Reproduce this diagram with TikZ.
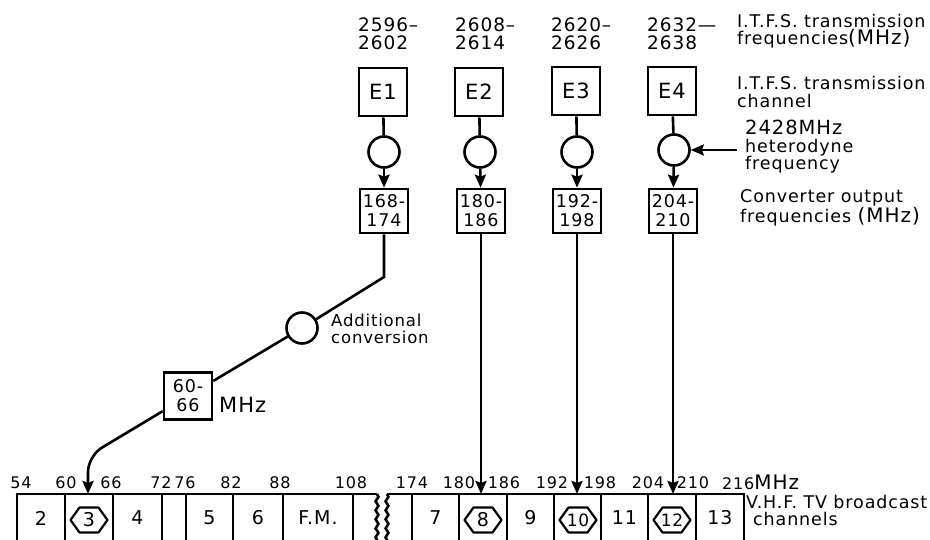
\documentclass[tikz,border=0pt]{standalone}
\usepackage{fontspec}
\setmainfont{DejaVu Sans}[LetterSpace=5]
\usetikzlibrary{arrows.meta,decorations.pathmorphing}
\tikzset{
  lw/.style={line width=2.6pt},
  arr/.style={lw,-{Stealth[length=13pt,width=11pt,inset=2pt]}},
  ebox/.style={draw,lw,minimum width=48pt,minimum height=48pt,inner sep=0pt,font=\fontsize{21}{24}\selectfont},
  obox/.style={draw,lw,minimum width=48pt,minimum height=44pt,inner sep=0pt,align=center,font=\fontsize{17.5}{19}\selectfont},
  mix/.style={draw,lw,circle,minimum size=31pt,inner sep=0pt},
  hexline/.style={line width=2.2pt,line join=round},
  lbl/.style={font=\fontsize{17.5}{17.5}\selectfont,align=left,anchor=west,inner sep=0pt},
  toplbl/.style={font=\fontsize{18.5}{18.5}\selectfont,align=left,anchor=west,inner sep=0pt},
  freq/.style={font=\fontsize{16}{16}\selectfont,inner sep=0pt},
  cell/.style={font=\fontsize{19}{19}\selectfont,inner sep=0pt},
  hcell/.style={font=\fontsize{17}{17}\selectfont,inner sep=0pt},
  brk/.style={lw,decorate,decoration={snake,amplitude=1.4pt,segment length=9pt}}
}
\newcommand\bigmhz{{\fontsize{20}{17.5}\selectfont(MHz)}}
\newcommand\hexaround[1]{\draw[hexline] (#1) ++(-18.5,0) -- ++(9,-12.5) -- ++(19,0) -- ++(9,12.5) -- ++(-9,12.5) -- ++(-19,0) -- cycle;}
\begin{document}
\begin{tikzpicture}[x=1pt,y=-1pt]
\useasboundingbox (0,0) rectangle (930,540);
% top frequency labels
\node[toplbl] (f1) at (358,34) {2596–\\2602};
\node[toplbl] (f2) at (455,34) {2608–\\2614};
\node[toplbl] (f3) at (551,34) {2620–\\2626};
\node[toplbl] (f4) at (647,34) {2632—\\2638};
% E boxes
\node[ebox] (e1) at (383,92) {E1};
\node[ebox] (e2) at (479,92) {E2};
\node[ebox] (e3) at (576,91) {E3};
\node[ebox] (e4) at (672,91) {E4};
% mixers
\node[mix] (c1) at (384,152) {};
\node[mix] (c2) at (480,152) {};
\node[mix] (c3) at (577,152) {};
\node[mix] (c4) at (674,150) {};
% output boxes
\node[obox] (o1) at (384,211) {168-\\174};
\node[obox] (o2) at (481,211) {180-\\186};
\node[obox] (o3) at (577,211) {192-\\198};
\node[obox] (o4) at (673,211) {204-\\210};
\foreach \i in {1,2,3,4}{
  \draw[lw] (e\i) -- (c\i);
  \draw[arr] (c\i) -- (o\i);
}
% right-hand labels
\node[lbl] (t1) at (737,31) {I.T.F.S. transmission\\frequencies\bigmhz};
\node[lbl] (t2) at (737,92) {I.T.F.S. transmission\\channel};
\node[lbl] (t3) at (745,147) {{\fontsize{19.5}{17.5}\selectfont 2428MHz}\\heterodyne\\frequency};
\node[lbl] (t4) at (740,208) {Converter output\\frequencies \bigmhz};
\coordinate (hx) at (737,150);
\draw[arr] (hx) -- (c4);
% additional conversion
\coordinate (b1) at (384,277);
\node[mix] (ac) at (302,328) {};
\node[lbl,font=\fontsize{16.5}{17}\selectfont] (t5) at (331,329) {Additional\\conversion};
\node[obox,minimum height=47pt] (m) at (188,396) {60-\\66};
\node[lbl,font=\fontsize{21}{20}\selectfont] (mhz) at (219,405) {MHz};
\draw[lw] (o1) -- (b1) -- (ac);
\draw[lw] (ac) -- (m);
\coordinate (b2) at (88,456);
\coordinate (a3) at (88,494);
\draw[arr,rounded corners=16pt] (m) -- (b2) -- (a3);
% band
\coordinate (a8) at (481,494);
\coordinate (a10) at (577,494);
\coordinate (a12) at (673,494);
\draw[arr] (o2) -- (a8);
\draw[arr] (o3) -- (a10);
\draw[arr] (o4) -- (a12);
\draw[lw] (17,541) -- (17,494) -- (377,494);
\draw[brk] (377,494) -- (377,541);
\draw[brk] (387,494) -- (387,541);
\draw[lw] (387,494) -- (744,494) -- (744,541);
\foreach \x in {65,113,162,186,233,283,353,412,459,507,554,601,648,696}
  \draw[lw] (\x,494) -- (\x,541);
% frequency labels
\foreach \x/\t in {21/54,66/60,111/66,161/72,185/76,231/82,280/88,351/108,412/174,459/180,504/186,552/192,600/198,648/204,693/210}
  \node[freq] at (\x,483) {\t};
\node[freq,anchor=base west] (f216) at (722,489) {216{\fontsize{20}{20}\selectfont MHz}};
% channel cells
\node[cell] (ch2) at (41,518) {2};
\node[cell] (ch3) at (89,520) {3};
\node[cell] (ch4) at (137.5,518) {4};
\node[cell] (ch5) at (209.5,518) {5};
\node[cell] (ch6) at (258,518) {6};
\node[cell] (fm) at (318,518) {F.M.};
\node[cell] (ch7) at (435.5,518) {7};
\node[cell] (ch8) at (483,520) {8};
\node[cell] (ch9) at (530.5,518) {9};
\node[hcell] (ch10) at (578,520) {10};
\node[cell] (ch11) at (624.5,518) {11};
\node[hcell] (ch12) at (672,520) {12};
\node[cell] (ch13) at (720,518) {13};
\hexaround{ch3}
\hexaround{ch8}
\hexaround{ch10}
\hexaround{ch12}
\node[lbl] (vhf) at (746,502) {V.H.F. TV broadcast};
\node[lbl] (chn) at (753,519) {channels};
\end{tikzpicture}
\end{document}
